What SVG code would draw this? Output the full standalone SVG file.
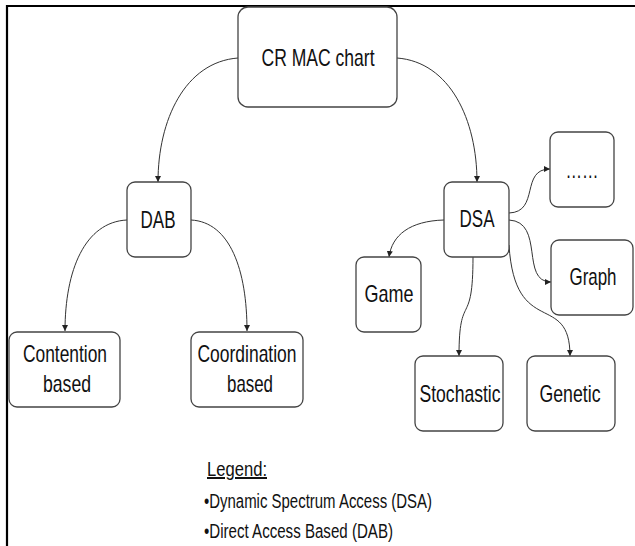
<svg xmlns="http://www.w3.org/2000/svg" width="635" height="546" viewBox="0 0 635 546">
  <defs>
    <marker id="arrow" viewBox="0 0 10 10" refX="10" refY="5" markerWidth="6" markerHeight="6" orient="auto" markerUnits="userSpaceOnUse">
      <path d="M0,0 L10,5 L0,10 z" fill="#222"/>
    </marker>
    <style>
      .box { fill: #fff; stroke: #444; stroke-width: 1.3; }
      .lbl { font-family: "Liberation Sans", Arial, sans-serif; font-size: 24px; fill: #111; text-anchor: middle; }
      .edge { fill: none; stroke: #333; stroke-width: 1; marker-end: url(#arrow); }
      .legend { font-family: "Liberation Sans", Arial, sans-serif; font-size: 20px; fill: #111; }
    </style>
  </defs>

  <rect width="635" height="546" fill="#fff"/>
  <!-- frame -->
  <path d="M7,546 V6 H635" fill="none" stroke="#000" stroke-width="2.2"/>

  <!-- connectors -->
  <g id="connectors">
    <path class="edge" d="M238,58 C185,62 158,120 158,182"/>
    <path class="edge" d="M397,58 C450,62 477,120 477,182"/>
    <path class="edge" d="M127,220 C85,222 65,270 65,331"/>
    <path class="edge" d="M191,220 C230,222 247,270 247,331"/>
    <path class="edge" d="M444,220 C410,221 392,235 389,257"/>
    <path class="edge" d="M473,257 C473,330 459,290 459,356"/>
    <path class="edge" d="M509,245 C515,340 570,290 570,356"/>
    <path class="edge" d="M509,220 C545,222 520,282 551,282"/>
    <path class="edge" d="M509,213 C540,212 520,169 550,169"/>
  </g>

  <g id="cr-mac-chart">
    <rect class="box" x="238" y="7" width="159" height="100" rx="10"/>
    <text class="lbl" x="318" y="66" textLength="113" lengthAdjust="spacingAndGlyphs">CR MAC chart</text>
  </g>

  <g id="dab">
    <rect class="box" x="127" y="182" width="64" height="75" rx="8"/>
    <text class="lbl" x="158" y="228" textLength="35" lengthAdjust="spacingAndGlyphs">DAB</text>
  </g>

  <g id="dsa">
    <rect class="box" x="444" y="182" width="65" height="75" rx="8"/>
    <text class="lbl" x="477" y="227" textLength="35" lengthAdjust="spacingAndGlyphs">DSA</text>
  </g>

  <g id="contention">
    <rect class="box" x="9" y="332" width="111" height="75" rx="8"/>
    <text class="lbl" x="65" y="362" textLength="84" lengthAdjust="spacingAndGlyphs">Contention</text>
    <text class="lbl" x="67" y="392" textLength="48" lengthAdjust="spacingAndGlyphs">based</text>
  </g>

  <g id="coordination">
    <rect class="box" x="191" y="332" width="112" height="75" rx="8"/>
    <text class="lbl" x="247" y="362" textLength="99" lengthAdjust="spacingAndGlyphs">Coordination</text>
    <text class="lbl" x="250" y="392" textLength="46" lengthAdjust="spacingAndGlyphs">based</text>
  </g>

  <g id="game">
    <rect class="box" x="356" y="257" width="65" height="75" rx="8"/>
    <text class="lbl" x="389" y="302" textLength="49" lengthAdjust="spacingAndGlyphs">Game</text>
  </g>

  <g id="more">
    <rect class="box" x="550" y="132" width="64" height="75" rx="8"/>
    <text class="lbl" x="582" y="178" textLength="33" lengthAdjust="spacingAndGlyphs">……</text>
  </g>

  <g id="graph">
    <rect class="box" x="551" y="240" width="82" height="75" rx="8"/>
    <text class="lbl" x="593" y="285" textLength="47" lengthAdjust="spacingAndGlyphs">Graph</text>
  </g>

  <g id="stochastic">
    <rect class="box" x="415" y="356" width="88" height="75" rx="8"/>
    <text class="lbl" x="460" y="402" textLength="81" lengthAdjust="spacingAndGlyphs">Stochastic</text>
  </g>

  <g id="genetic">
    <rect class="box" x="527" y="356" width="88" height="75" rx="8"/>
    <text class="lbl" x="570" y="402" textLength="61" lengthAdjust="spacingAndGlyphs">Genetic</text>
  </g>

  <g id="legend">
    <text class="legend" x="207" y="476" text-decoration="underline" textLength="60" lengthAdjust="spacingAndGlyphs">Legend:</text>
    <text class="legend" x="204" y="508" textLength="228" lengthAdjust="spacingAndGlyphs">•Dynamic Spectrum Access (DSA)</text>
    <text class="legend" x="204" y="538" textLength="189" lengthAdjust="spacingAndGlyphs">•Direct Access Based (DAB)</text>
  </g>
</svg>
